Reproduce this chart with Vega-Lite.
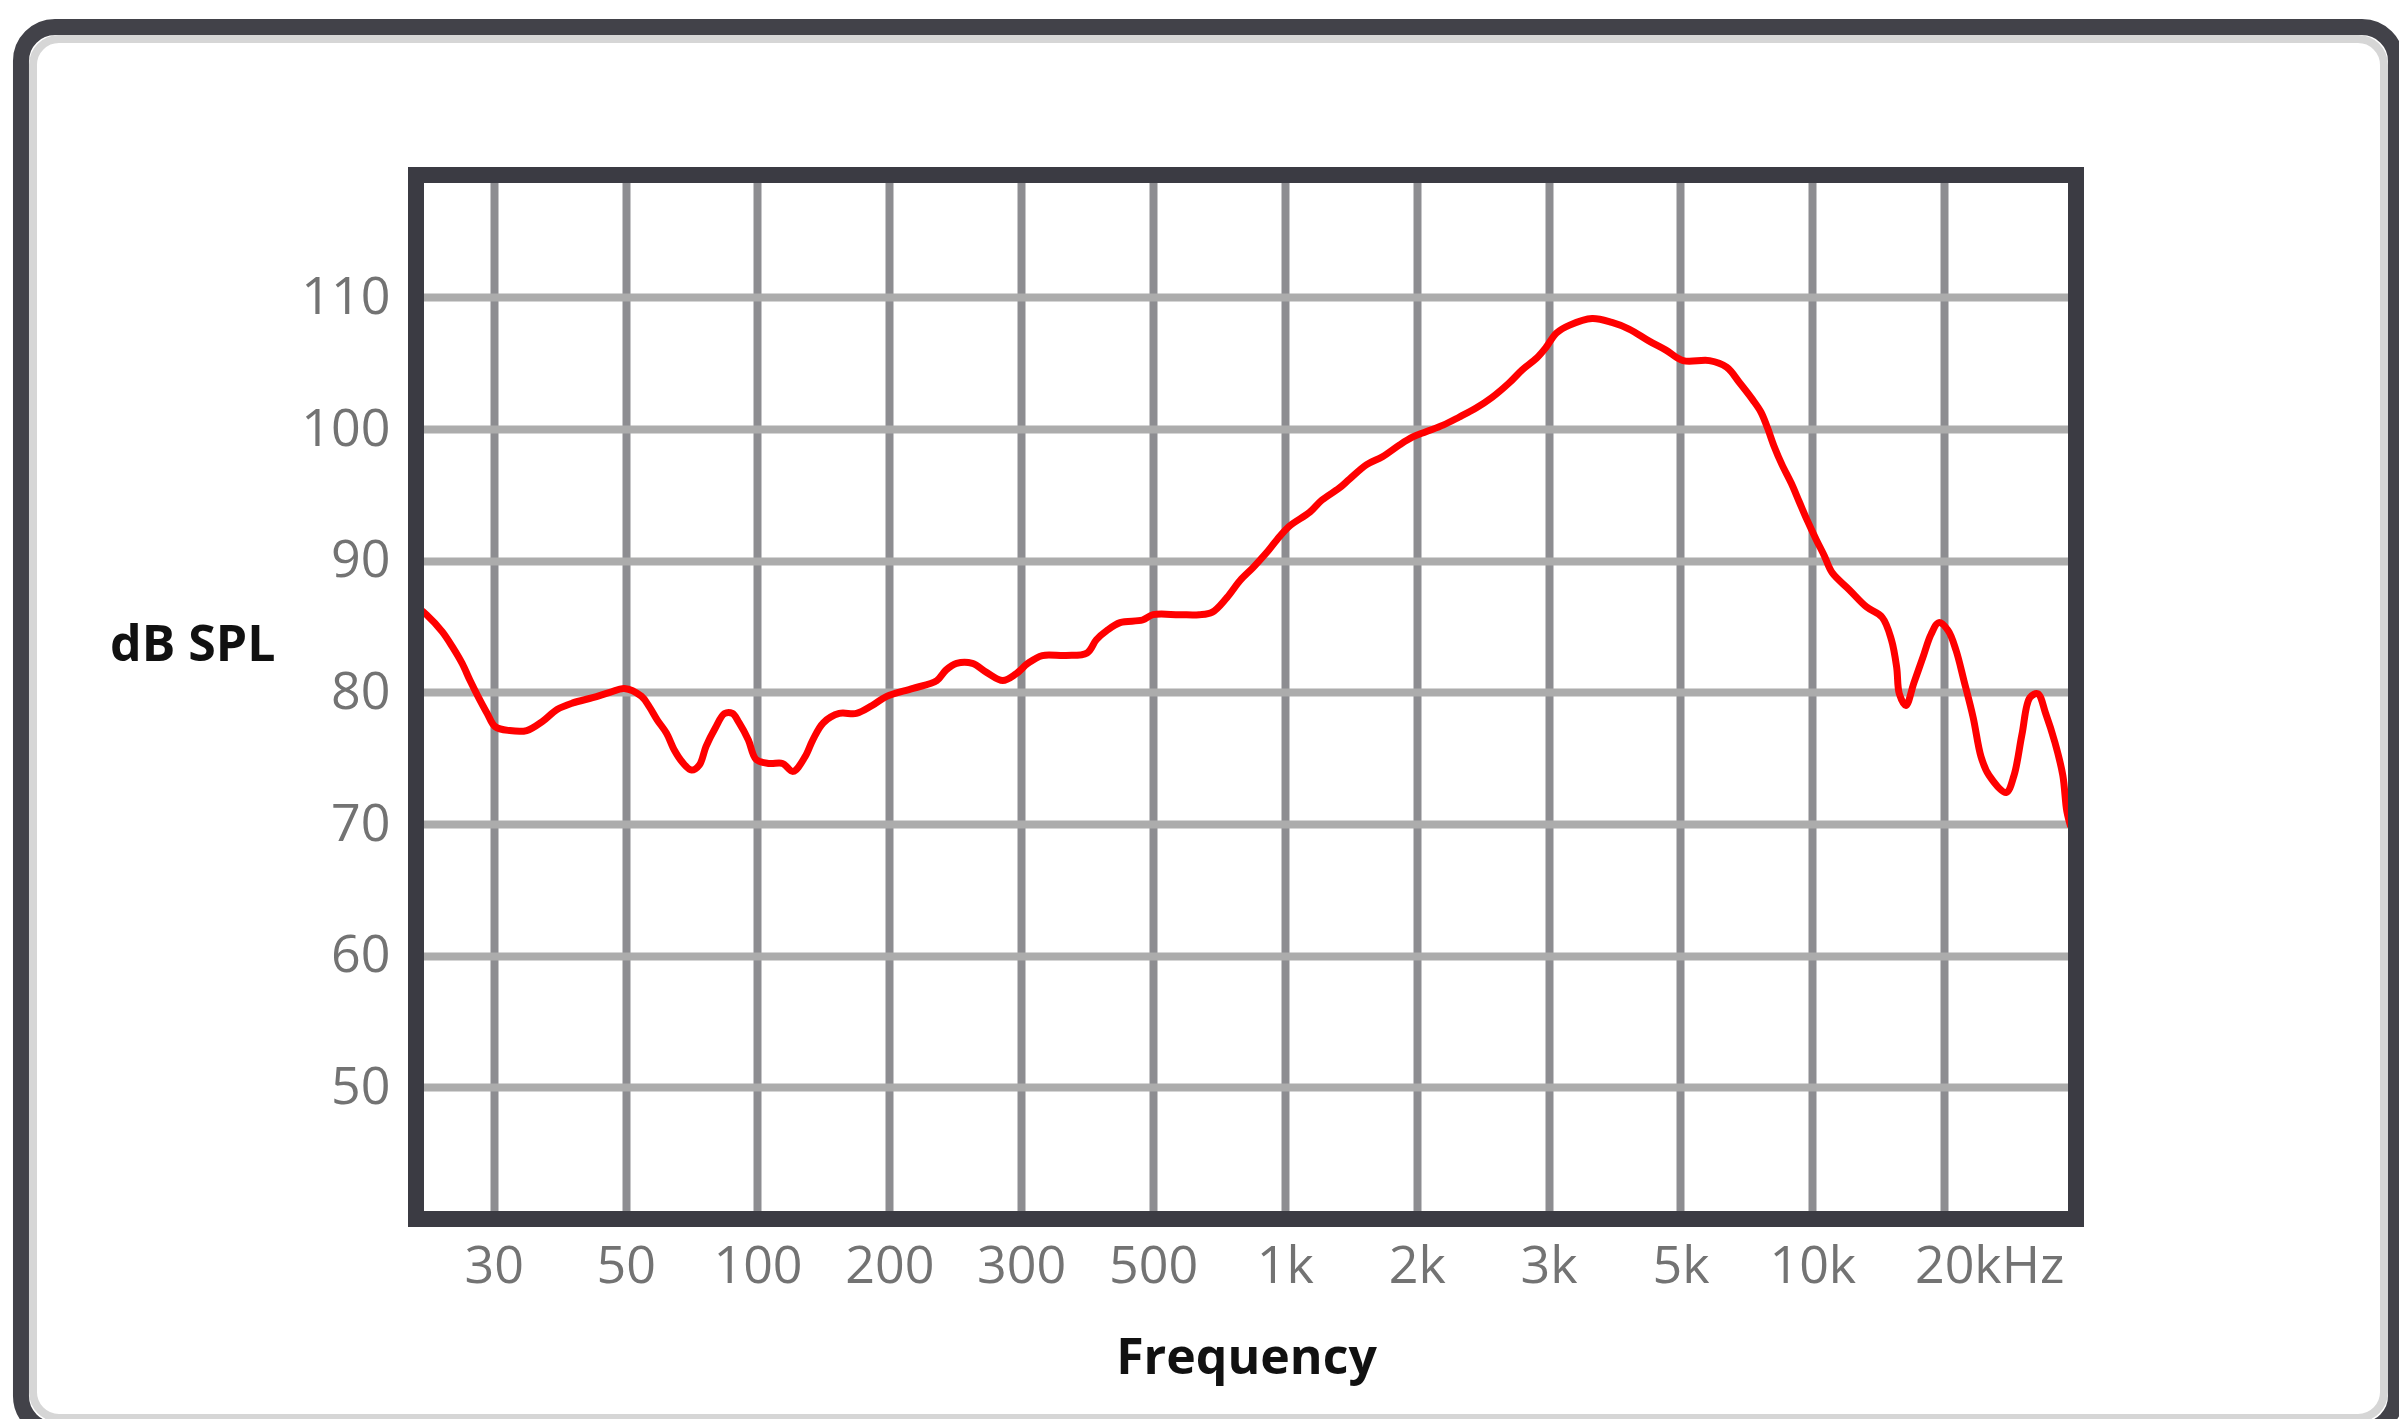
{
  "$schema": "https://vega.github.io/schema/vega-lite/v6.json",
  "width": 1660,
  "height": 1044,
  "autosize": {"type": "none"},
  "padding": {"left": 416, "top": 175, "right": 323, "bottom": 200},
  "background": "white",
  "config": {"view": {"stroke": null}, "font": "Open Sans"},
  "layer": [
    {
      "data": {"values": [{}]},
      "mark": {"type": "rect", "filled": false, "stroke": "#d6d6d6", "strokeWidth": 8, "cornerRadius": 26, "clip": false},
      "encoding": {
        "x": {"datum": -3.495, "type": "quantitative", "scale": {"domain": [-0.59, 12], "nice": false, "zero": false}},
        "x2": {"datum": 14.336},
        "y": {"datum": 129.63, "type": "quantitative", "scale": {"domain": [40, 119.3], "nice": false, "zero": false}},
        "y2": {"datum": 24.88}
      }
    },
    {
      "data": {"values": [{}]},
      "mark": {"type": "rect", "filled": false, "stroke": "#424249", "strokeWidth": 16, "cornerRadius": 34, "clip": false},
      "encoding": {
        "x": {"datum": -3.586, "type": "quantitative", "scale": {"domain": [-0.59, 12], "nice": false, "zero": false}},
        "x2": {"datum": 14.427},
        "y": {"datum": 130.54, "type": "quantitative", "scale": {"domain": [40, 119.3], "nice": false, "zero": false}},
        "y2": {"datum": 23.97}
      }
    },
    {
      "data": {"values": [
        {"position": -0.56, "spl": 86.3}, {"position": -0.51, "spl": 85.9}, {"position": -0.39, "spl": 84.6},
        {"position": -0.31, "spl": 83.4}, {"position": -0.24, "spl": 82.2}, {"position": -0.18, "spl": 80.9},
        {"position": -0.12, "spl": 79.7}, {"position": -0.05, "spl": 78.4}, {"position": 0.01, "spl": 77.4},
        {"position": 0.12, "spl": 77.1}, {"position": 0.25, "spl": 77.1}, {"position": 0.37, "spl": 77.8},
        {"position": 0.48, "spl": 78.7}, {"position": 0.6, "spl": 79.2}, {"position": 0.75, "spl": 79.6},
        {"position": 0.88, "spl": 80.0}, {"position": 0.99, "spl": 80.3}, {"position": 1.12, "spl": 79.7},
        {"position": 1.18, "spl": 78.9}, {"position": 1.24, "spl": 77.9}, {"position": 1.31, "spl": 76.9},
        {"position": 1.37, "spl": 75.6}, {"position": 1.43, "spl": 74.7}, {"position": 1.5, "spl": 74.1},
        {"position": 1.56, "spl": 74.5}, {"position": 1.61, "spl": 75.9}, {"position": 1.68, "spl": 77.3},
        {"position": 1.75, "spl": 78.4}, {"position": 1.81, "spl": 78.4}, {"position": 1.86, "spl": 77.7},
        {"position": 1.93, "spl": 76.4}, {"position": 1.99, "spl": 74.9}, {"position": 2.09, "spl": 74.6},
        {"position": 2.19, "spl": 74.6}, {"position": 2.27, "spl": 74.0}, {"position": 2.36, "spl": 75.1},
        {"position": 2.42, "spl": 76.4}, {"position": 2.5, "spl": 77.7}, {"position": 2.62, "spl": 78.4},
        {"position": 2.75, "spl": 78.4}, {"position": 2.87, "spl": 79.0}, {"position": 2.98, "spl": 79.7},
        {"position": 3.18, "spl": 80.3}, {"position": 3.36, "spl": 80.9}, {"position": 3.43, "spl": 81.7},
        {"position": 3.51, "spl": 82.2}, {"position": 3.63, "spl": 82.2}, {"position": 3.74, "spl": 81.5},
        {"position": 3.86, "spl": 80.9}, {"position": 3.96, "spl": 81.4}, {"position": 4.05, "spl": 82.2},
        {"position": 4.16, "spl": 82.8}, {"position": 4.34, "spl": 82.8}, {"position": 4.5, "spl": 83.0},
        {"position": 4.57, "spl": 84.0}, {"position": 4.65, "spl": 84.7}, {"position": 4.75, "spl": 85.3},
        {"position": 4.92, "spl": 85.5}, {"position": 5.0, "spl": 85.9}, {"position": 5.2, "spl": 85.9},
        {"position": 5.35, "spl": 85.9}, {"position": 5.45, "spl": 86.1}, {"position": 5.56, "spl": 87.2},
        {"position": 5.66, "spl": 88.5}, {"position": 5.76, "spl": 89.5}, {"position": 5.86, "spl": 90.6},
        {"position": 5.94, "spl": 91.6}, {"position": 6.03, "spl": 92.6}, {"position": 6.19, "spl": 93.7},
        {"position": 6.28, "spl": 94.6}, {"position": 6.41, "spl": 95.5}, {"position": 6.49, "spl": 96.2},
        {"position": 6.62, "spl": 97.3}, {"position": 6.74, "spl": 97.9}, {"position": 6.87, "spl": 98.8},
        {"position": 6.97, "spl": 99.4}, {"position": 7.07, "spl": 99.8}, {"position": 7.2, "spl": 100.3},
        {"position": 7.32, "spl": 100.9}, {"position": 7.45, "spl": 101.6}, {"position": 7.57, "spl": 102.4},
        {"position": 7.7, "spl": 103.5}, {"position": 7.8, "spl": 104.5}, {"position": 7.91, "spl": 105.4},
        {"position": 7.98, "spl": 106.2}, {"position": 8.06, "spl": 107.3}, {"position": 8.16, "spl": 107.9},
        {"position": 8.33, "spl": 108.4}, {"position": 8.48, "spl": 108.1}, {"position": 8.61, "spl": 107.6},
        {"position": 8.76, "spl": 106.7}, {"position": 8.89, "spl": 106.0}, {"position": 9.02, "spl": 105.2},
        {"position": 9.22, "spl": 105.2}, {"position": 9.35, "spl": 104.7}, {"position": 9.45, "spl": 103.5},
        {"position": 9.55, "spl": 102.2}, {"position": 9.61, "spl": 101.3}, {"position": 9.66, "spl": 100.1},
        {"position": 9.71, "spl": 98.7}, {"position": 9.77, "spl": 97.3}, {"position": 9.84, "spl": 95.9},
        {"position": 9.9, "spl": 94.5}, {"position": 9.96, "spl": 93.1}, {"position": 10.03, "spl": 91.6},
        {"position": 10.09, "spl": 90.4}, {"position": 10.15, "spl": 89.1}, {"position": 10.28, "spl": 87.8},
        {"position": 10.41, "spl": 86.5}, {"position": 10.53, "spl": 85.7}, {"position": 10.6, "spl": 84.0},
        {"position": 10.64, "spl": 81.9}, {"position": 10.66, "spl": 79.9}, {"position": 10.71, "spl": 79.0},
        {"position": 10.77, "spl": 80.7}, {"position": 10.84, "spl": 82.7}, {"position": 10.9, "spl": 84.4},
        {"position": 10.96, "spl": 85.3}, {"position": 11.03, "spl": 84.7}, {"position": 11.09, "spl": 83.2},
        {"position": 11.15, "spl": 80.9}, {"position": 11.22, "spl": 78.1}, {"position": 11.28, "spl": 75.1},
        {"position": 11.34, "spl": 73.7}, {"position": 11.47, "spl": 72.4}, {"position": 11.53, "spl": 73.7},
        {"position": 11.59, "spl": 76.8}, {"position": 11.65, "spl": 79.6}, {"position": 11.71, "spl": 79.9},
        {"position": 11.77, "spl": 78.4}, {"position": 11.84, "spl": 76.2}, {"position": 11.9, "spl": 73.7},
        {"position": 11.93, "spl": 71.0}, {"position": 11.96, "spl": 69.8}
      ]},
      "mark": {"type": "line", "color": "#ff0000", "strokeWidth": 7, "interpolate": "catmull-rom", "clip": true},
      "encoding": {
        "x": {
          "field": "position", "type": "quantitative",
          "scale": {"domain": [-0.59, 12], "nice": false, "zero": false},
          "axis": {
            "values": [0, 1, 2, 3, 4, 5, 6, 7, 8, 9, 10, 11],
            "labelExpr": "['30','50','100','200','300','500','1k','2k','3k','5k','10k','20kHz'][datum.value]",
            "grid": true, "gridColor": "#8d8d91", "gridWidth": 8,
            "domain": false, "ticks": false, "tickSize": 0,
            "labelPadding": 63, "labelBaseline": "alphabetic",
            "labelFontSize": 52, "labelColor": "#737373", "labelFont": "Open Sans",
            "labelFlush": false, "labelOverlap": false, "labelBound": false,
            "labelOffset": {"condition": {"test": "datum.value == 11", "value": 45}, "value": 0},
            "title": "Frequency", "titleFontSize": 50, "titleFont": "Open Sans", "titleFontWeight": "bold",
            "titleColor": "#111111", "titleY": 154, "titleBaseline": "alphabetic"
          }
        },
        "y": {
          "field": "spl", "type": "quantitative",
          "scale": {"domain": [40, 119.3], "nice": false, "zero": false},
          "axis": {
            "values": [50, 60, 70, 80, 90, 100, 110],
            "grid": true, "gridColor": "#acacac", "gridWidth": 8,
            "domain": false, "ticks": false, "tickSize": 0,
            "labelPadding": 26, "labelFontSize": 52, "labelColor": "#737373", "labelFont": "Open Sans",
            "labelFlush": false,
            "title": "dB SPL", "titleAngle": 0, "titleAlign": "right", "titleBaseline": "alphabetic",
            "titleX": -141, "titleY": 485,
            "titleFontSize": 50, "titleFont": "Open Sans", "titleFontWeight": "bold", "titleColor": "#111111"
          }
        }
      }
    },
    {
      "data": {"values": [{}]},
      "mark": {"type": "rect", "filled": false, "stroke": "#3b3b43", "strokeWidth": 16, "clip": false},
      "encoding": {
        "x": {"datum": -0.59, "type": "quantitative", "scale": {"domain": [-0.59, 12], "nice": false, "zero": false}},
        "x2": {"datum": 12},
        "y": {"datum": 40, "type": "quantitative", "scale": {"domain": [40, 119.3], "nice": false, "zero": false}},
        "y2": {"datum": 119.3}
      }
    }
  ]
}
